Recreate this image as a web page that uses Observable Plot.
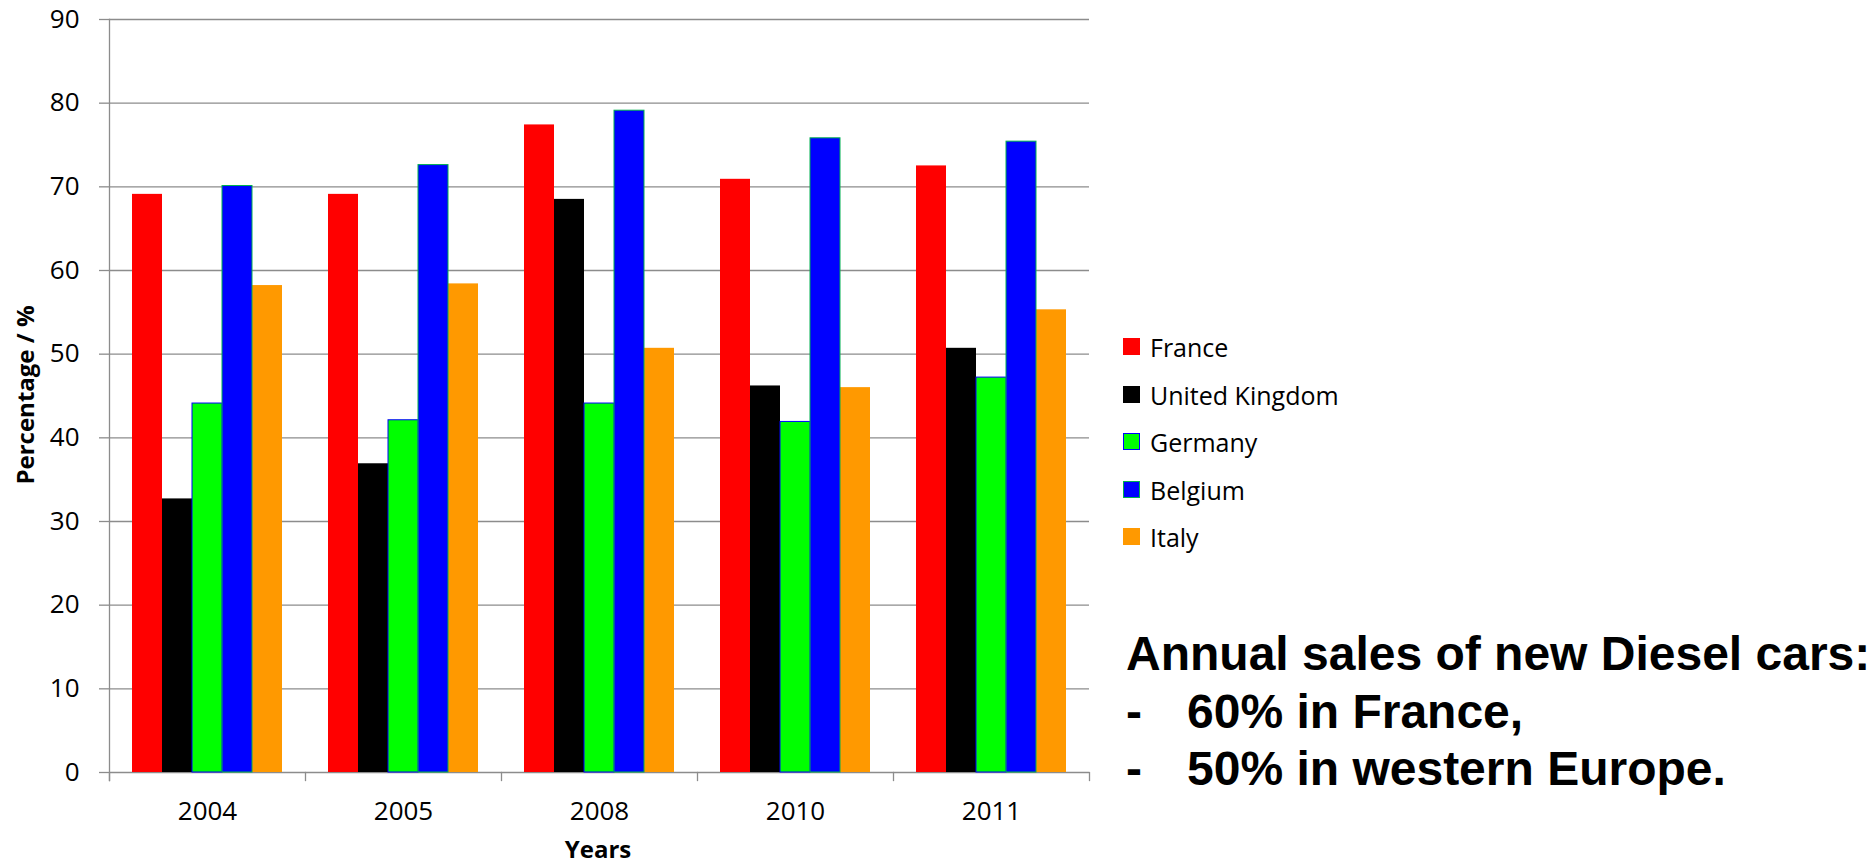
<!DOCTYPE html>
<html>
<head>
<meta charset="utf-8">
<script src="https://cdn.jsdelivr.net/npm/d3@7"></script>
<script src="https://cdn.jsdelivr.net/npm/@observablehq/plot@0.6"></script>
<style>
  html, body { margin: 0; padding: 0; background: #fff; }
  #wrap { position: relative; width: 1872px; height: 866px; overflow: hidden; font-family: "Open Sans", sans-serif; color: #000; }
  #chart { position: absolute; left: 0; top: 0; }
  .axlab { position: absolute; font-family: "Open Sans", sans-serif; font-weight: bold; font-size: 24px; white-space: nowrap; line-height: 1; }
  .legitem { position: absolute; height: 30px; line-height: 30px; font-size: 25px; white-space: nowrap; }
  .sw { position: absolute; left: 0; top: 6px; width: 17px; height: 17px; box-sizing: border-box; }
  .legtext { position: absolute; left: 27px; top: 0; }
  #note { position: absolute; left: 1126px; top: 625px; font-family: "Liberation Sans", Arial, sans-serif; font-weight: bold; font-size: 48px; line-height: 57.5px; white-space: nowrap; }
  #note .dash { display: inline-block; width: 61px; }
</style>
</head>
<body>
<div id="wrap">
  <div id="chart"></div>
</div>
<script>
// ---- data ----
const years = ["2004", "2005", "2008", "2010", "2011"];
const countries = ["France", "United Kingdom", "Germany", "Belgium", "Italy"];
const france  = [69.1, 69.1, 77.4, 70.9, 72.5];
const uk      = [32.7, 36.9, 68.5, 46.2, 50.7];
const germany = [44.1, 42.1, 44.1, 41.9, 47.2];
const belgium = [70.1, 72.6, 79.1, 75.8, 75.4];
const italy   = [58.2, 58.4, 50.7, 46.0, 55.3];
const yTicks  = [0, 10, 20, 30, 40, 50, 60, 70, 80, 90];
const noteLines = ["Annual sales of new Diesel cars:", "60% in France,", "50% in western Europe."];

// ---- styles ----
const fillColors = ["#ff0000", "#000000", "#00ff00", "#0000ff", "#ff9900"];
const edgeColors = { "Germany": "#0000ff", "Belgium": "#00b050" };
const axisColor = "#8c8c8c";

const series = [france, uk, germany, belgium, italy];
const data = years.flatMap((y, i) => countries.map((c, j) => ({ year: y, country: c, value: series[j][i] })));

const W = 1872, H = 866, mL = 108, mR = 783, mT = 19, mB = 94;
const plotH = H - mT - mB;

const barOpts = { fx: "year", x: "country", y: "value", fill: "country" };

const chart = Plot.plot({
  width: W, height: H,
  marginLeft: mL, marginRight: mR, marginTop: mT, marginBottom: mB,
  style: { fontFamily: "'Open Sans', sans-serif", fontSize: "26px", color: "#000", background: "#fff" },
  fx: { domain: years, padding: 0, label: null, axis: null },
  x: { domain: countries, paddingInner: 0, paddingOuter: 0.716, axis: null },
  y: { domain: [0, 90], axis: null, label: null },
  color: { domain: countries, range: fillColors },
  marks: [
    Plot.gridY(yTicks, { stroke: axisColor, strokeOpacity: 1, strokeWidth: 1.3 }),
    Plot.barY(data.filter(d => !edgeColors[d.country]), barOpts),
    Plot.barY(data.filter(d => d.country === "Germany"), { ...barOpts, stroke: edgeColors["Germany"], strokeWidth: 1 }),
    Plot.barY(data.filter(d => d.country === "Belgium"), { ...barOpts, stroke: edgeColors["Belgium"], strokeWidth: 1 }),
    Plot.frame({ anchor: "left", facetAnchor: "left", stroke: axisColor, strokeWidth: 1.3, insetBottom: -8 }),
    Plot.frame({ anchor: "left", stroke: axisColor, strokeWidth: 1.3, insetTop: plotH, insetBottom: -8 }),
    Plot.frame({ anchor: "right", facetAnchor: "right", stroke: axisColor, strokeWidth: 1.3, insetTop: plotH, insetBottom: -8 }),
    Plot.axisY(yTicks, { anchor: "left", tickSize: 10, tickPadding: 20, stroke: axisColor, strokeWidth: 1.3, fill: "#000", fontSize: 26, label: null }),
    Plot.axisFx({ anchor: "bottom", tickSize: 0, tickPadding: 29, fill: "#000", fontSize: 26, label: null })
  ]
});
document.getElementById("chart").appendChild(chart);

const wrap = document.getElementById("wrap");

// axis titles
const yl = document.createElement("div");
yl.style.cssText = "position:absolute;left:25px;top:395px;width:0;height:0;";
const ylIn = document.createElement("div");
ylIn.className = "axlab";
ylIn.style.transform = "translate(-50%,-50%) rotate(-90deg)";
ylIn.style.position = "absolute";
ylIn.textContent = "Percentage / %";
yl.appendChild(ylIn);
wrap.appendChild(yl);

const xl = document.createElement("div");
xl.className = "axlab";
xl.style.left = "598px";
xl.style.top = "837px";
xl.style.transform = "translateX(-50%)";
xl.textContent = "Years";
wrap.appendChild(xl);

// legend
countries.forEach((c, j) => {
  const item = document.createElement("div");
  item.className = "legitem";
  item.style.left = "1123px";
  item.style.top = (332 + j * 47.6) + "px";
  const sw = document.createElement("div");
  sw.className = "sw";
  sw.style.background = fillColors[j];
  if (edgeColors[c]) sw.style.border = "1.5px solid " + edgeColors[c];
  const tx = document.createElement("span");
  tx.className = "legtext";
  tx.textContent = c;
  item.appendChild(sw);
  item.appendChild(tx);
  wrap.appendChild(item);
});

// annotation
const note = document.createElement("div");
note.id = "note";
noteLines.forEach((t, i) => {
  const line = document.createElement("div");
  if (i > 0) {
    const d = document.createElement("span");
    d.className = "dash";
    d.textContent = "-";
    line.appendChild(d);
  }
  line.appendChild(document.createTextNode(t));
  note.appendChild(line);
});
wrap.appendChild(note);
</script>
</body>
</html>
